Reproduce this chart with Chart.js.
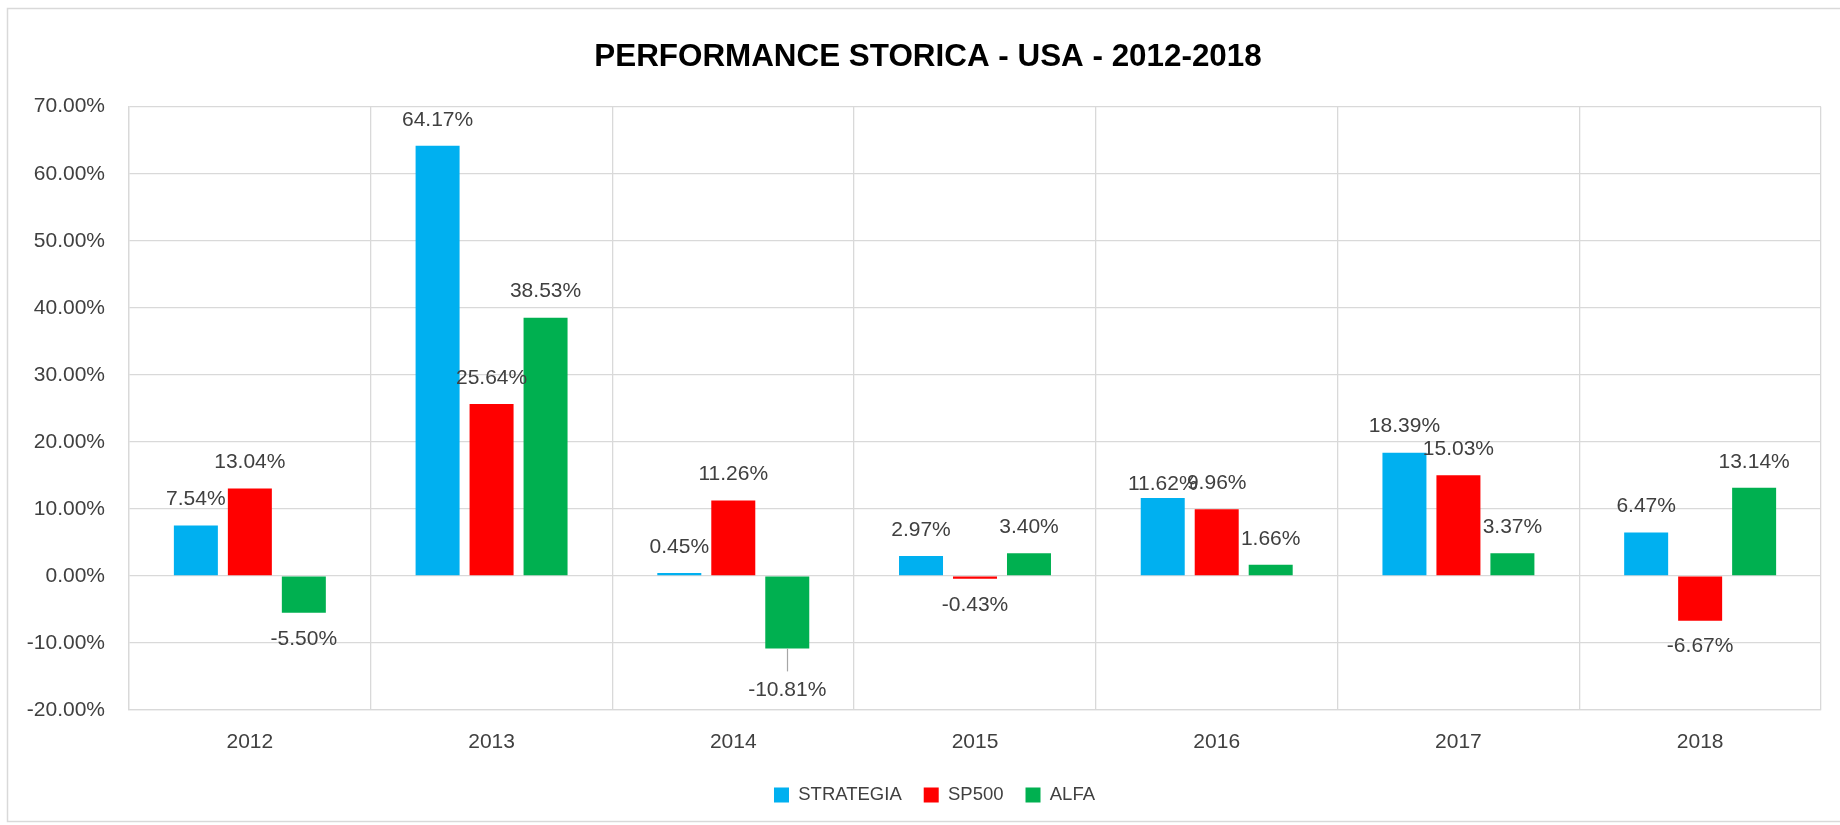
<!DOCTYPE html>
<html><head><meta charset="utf-8">
<script src="https://cdn.jsdelivr.net/npm/chart.js@4.4.0/dist/chart.umd.min.js"></script>
<style>html,body{margin:0;padding:0;background:#fff;overflow:hidden}</style>
</head><body>
<canvas id="c" width="1840" height="825" style="display:block;width:1840px;height:825px"></canvas>
<script>
const years = ['2012','2013','2014','2015','2016','2017','2018'];
const strategia = [7.54, 64.17, 0.45, 2.97, 11.62, 18.39, 6.47];
const sp500 = [13.04, 25.64, 11.26, -0.43, 9.96, 15.03, -6.67];
const alfa = [-5.50, 38.53, -10.81, 3.40, 1.66, 3.37, 13.14];
const seriesNames = ['STRATEGIA', 'SP500', 'ALFA'];
const yMin = -20, yMax = 70, yStep = 10;

const FONT = '"Liberation Sans", Arial, sans-serif';
const TEXT = '#404040';
const GRID = '#d9d9d9';

// manual nudges of individual value labels (dataset-index)
const labelAdjust = { '0-4': { dy: 12 }, '2-2': { dy: 16, leader: true } };

const frame = {
  id: 'frame',
  beforeDraw(chart) {
    const ctx = chart.ctx;
    ctx.save();
    ctx.fillStyle = '#fff';
    ctx.fillRect(0, 0, chart.width, chart.height);
    ctx.strokeStyle = '#d9d9d9';
    ctx.lineWidth = 1.5;
    ctx.strokeRect(7.5, 8.5, 1860, 813);
    ctx.restore();
  }
};

// shift title and legend horizontally to sit where the reference puts them
const boxShift = {
  id: 'boxShift',
  afterLayout(chart) {
    const lg = chart.legend, tt = chart.titleBlock;
    if (lg) { lg.left += 24; lg.right += 24; }
    if (tt) { tt.left += 17.5; tt.right += 17.5; }
  }
};

const valueLabels = {
  id: 'valueLabels',
  afterDatasetsDraw(chart) {
    const ctx = chart.ctx;
    ctx.save();
    ctx.font = '21px ' + FONT;
    ctx.fillStyle = TEXT;
    ctx.textAlign = 'center';
    ctx.textBaseline = 'middle';
    chart.data.datasets.forEach((ds, di) => {
      const meta = chart.getDatasetMeta(di);
      meta.data.forEach((bar, i) => {
        const v = ds.data[i];
        const adj = labelAdjust[di + '-' + i] || {};
        const dir = v >= 0 ? -1 : 1;
        const y = bar.y + dir * 26 + (adj.dy || 0);
        if (adj.leader) {
          ctx.strokeStyle = '#a6a6a6';
          ctx.lineWidth = 1.2;
          ctx.beginPath();
          ctx.moveTo(Math.round(bar.x) + 0.5, bar.y);
          ctx.lineTo(Math.round(bar.x) + 0.5, y - 19);
          ctx.stroke();
        }
        ctx.fillText(v.toFixed(2) + '%', bar.x + (adj.dx || 0), y);
      });
    });
    ctx.restore();
  }
};

new Chart(document.getElementById('c'), {
  type: 'bar',
  data: {
    labels: years,
    datasets: [
      { label: seriesNames[0], data: strategia, backgroundColor: '#00B0F0' },
      { label: seriesNames[1], data: sp500, backgroundColor: '#FF0000' },
      { label: seriesNames[2], data: alfa, backgroundColor: '#00B050' }
    ]
  },
  options: {
    responsive: false,
    animation: false,
    devicePixelRatio: 1,
    datasets: { bar: { categoryPercentage: 0.67, barPercentage: 0.815 } },
    layout: { padding: { left: 0, right: 19, top: 0, bottom: 10.75 } },
    scales: {
      x: {
        grid: { color: GRID, lineWidth: 1.3, offset: true, drawTicks: false },
        border: { color: GRID, width: 1.3 },
        ticks: { color: TEXT, font: { family: FONT, size: 21 }, padding: 20 },
        afterFit(scale) { scale.height = 53.75; }
      },
      y: {
        min: yMin, max: yMax,
        grid: { color: GRID, lineWidth: 1.3, drawTicks: false },
        border: { color: GRID, width: 1.3 },
        ticks: {
          stepSize: yStep, color: TEXT, font: { family: FONT, size: 21 }, padding: 24,
          callback: v => v.toFixed(2) + '%'
        },
        afterFit(scale) { scale.width = 129; }
      }
    },
    plugins: {
      title: {
        display: true,
        text: 'PERFORMANCE STORICA - USA - 2012-2018',
        color: '#000',
        font: { family: FONT, size: 31.4, weight: 'bold' },
        padding: { top: 38.8, bottom: 30.2 }
      },
      legend: {
        position: 'bottom',
        labels: {
          boxWidth: 15, boxHeight: 15, padding: 22,
          color: TEXT, font: { family: FONT, size: 18.5 }
        }
      },
      tooltip: { enabled: false }
    }
  },
  plugins: [frame, boxShift, valueLabels]
});
</script>
</body></html>
